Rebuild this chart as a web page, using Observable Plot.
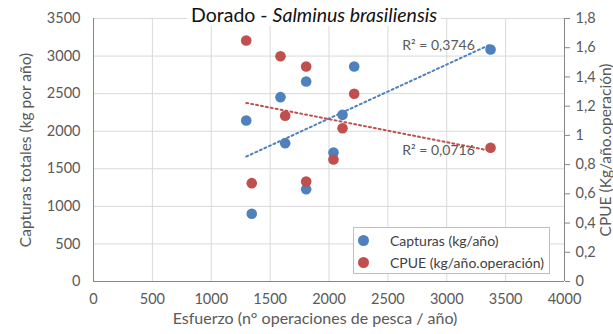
<!DOCTYPE html>
<html>
<head>
<meta charset="utf-8">
<script src="https://cdn.jsdelivr.net/npm/d3@7"></script>
<script src="https://cdn.jsdelivr.net/npm/@observablehq/plot@0.6"></script>
<style>
  html, body { margin: 0; padding: 0; background: #fff; }
  #wrap { position: relative; width: 613px; height: 334px; font-family: Lato, "Open Sans", sans-serif; }
  #title { position: absolute; top: 3px; left: 0; width: 628px; text-align: center; pointer-events: none; }
  #title span { background: #fff; padding: 0 4px; font-size: 19.5px; color: #111; }
  #legend { position: absolute; left: 353px; top: 227px; width: 197px; height: 47px; background: #fff; border: 1px solid #bfbfbf; box-sizing: border-box; font-size: 14px; color: #404040; }
  .li { position: absolute; left: 0; height: 20px; display: flex; align-items: center; }
  .sw { width: 11px; height: 11px; border-radius: 50%; margin-left: 4px; margin-right: 21px; }
</style>
</head>
<body>
<div id="wrap">
  <div id="chart"></div>
  <div id="title"><span>Dorado - <i>Salminus brasiliensis</i></span></div>
  <div id="legend"></div>
</div>
<script>
// Data
const esfuerzo = [1297, 1588, 1806, 2214, 2115, 1628, 2038, 1344, 1806, 3372];
const capturas = [2143, 2453, 2662, 2861, 2218, 1841, 1717, 901, 1228, 3088];
const cpue     = [1.649, 1.542, 1.471, 1.285, 1.049, 1.134, 0.835, 0.673, 0.684, 0.915];
const seriesNames = ["Capturas (kg/año)", "CPUE (kg/año.operación)"];
const seriesColors = ["#4F81BD", "#C0504D"];
const r2Labels = ["R² = 0,3746", "R² = 0,0716"];
const r2Pos = [{x: 2930, y: 3141}, {x: 2930, y: 1743}];
const xTicks = [0, 500, 1000, 1500, 2000, 2500, 3000, 3500, 4000];
const yLeftTicks = [0, 500, 1000, 1500, 2000, 2500, 3000, 3500];
const yRightTicks = [0, 0.2, 0.4, 0.6, 0.8, 1, 1.2, 1.4, 1.6, 1.8];

const yMax = 3500, rMax = 1.8, k = yMax / rMax;
const capData = esfuerzo.map((x, i) => ({x, y: capturas[i]}));
const cpueData = esfuerzo.map((x, i) => ({x, y: cpue[i] * k}));
const fmtR = v => String(+v.toFixed(1)).replace(".", ",");
const font = "Lato, 'Open Sans', sans-serif";
const txt = "#595959";

const plot = Plot.plot({
  width: 613, height: 334,
  marginLeft: 93, marginRight: 49, marginTop: 18, marginBottom: 53,
  style: {fontFamily: font, background: "#fff"},
  x: {domain: [0, 4000]},
  y: {domain: [0, yMax]},
  marks: [
    Plot.gridX(xTicks.slice(1), {stroke: "#d9d9d9", strokeOpacity: 1}),
    Plot.gridY(yLeftTicks.slice(1), {stroke: "#d9d9d9", strokeOpacity: 1}),
    Plot.axisX(xTicks, {tickSize: 0, tickPadding: 12, fontSize: 14.5, fill: txt, label: null, tickFormat: d => String(d)}),
    Plot.axisY(yLeftTicks, {anchor: "left", tickSize: 0, tickPadding: 13, fontSize: 14.5, fill: txt, label: null, tickFormat: d => String(d)}),
    Plot.axisY(yRightTicks.map(v => v * k), {anchor: "right", tickSize: 5, tickPadding: 6, fontSize: 14.5, fill: txt, stroke: "#868686", label: null, tickFormat: d => fmtR(d / k)}),
    Plot.ruleX([4000], {stroke: "#868686"}),
    Plot.ruleX([0], {stroke: "#868686"}),
    Plot.ruleY([0], {stroke: "#868686"}),
    Plot.linearRegressionY(capData, {x: "x", y: "y", ci: 0, stroke: seriesColors[0], strokeWidth: 2, strokeDasharray: "2,3"}),
    Plot.linearRegressionY(cpueData, {x: "x", y: "y", ci: 0, stroke: seriesColors[1], strokeWidth: 2, strokeDasharray: "2,3"}),
    Plot.dot(capData, {x: "x", y: "y", r: 5.3, fill: seriesColors[0]}),
    Plot.dot(cpueData, {x: "x", y: "y", r: 5.3, fill: seriesColors[1]}),
    Plot.text(r2Labels.map((t, i) => ({t, ...r2Pos[i]})), {x: "x", y: "y", text: "t", fontSize: 14, fill: txt}),
    Plot.text(["Capturas totales (kg por año)"], {frameAnchor: "left", textAnchor: "middle", dx: -67, rotate: -90, fontSize: 15.5, fill: txt}),
    Plot.text(["CPUE (Kg/año.operación)"], {frameAnchor: "right", textAnchor: "middle", dx: 42, rotate: -90, fontSize: 15.5, fill: txt}),
    Plot.text(["Esfuerzo (n° operaciones de pesca / año)"], {frameAnchor: "bottom", dy: 42, dx: -14, fontSize: 16, fill: txt})
  ]
});
document.getElementById("chart").appendChild(plot);

const leg = document.getElementById("legend");
seriesNames.forEach((n, i) => {
  const d = document.createElement("div");
  d.className = "li";
  d.style.top = (2 + i * 22) + "px";
  d.innerHTML = `<span class="sw" style="background:${seriesColors[i]}"></span><span>${n}</span>`;
  leg.appendChild(d);
});
</script>
</body>
</html>
